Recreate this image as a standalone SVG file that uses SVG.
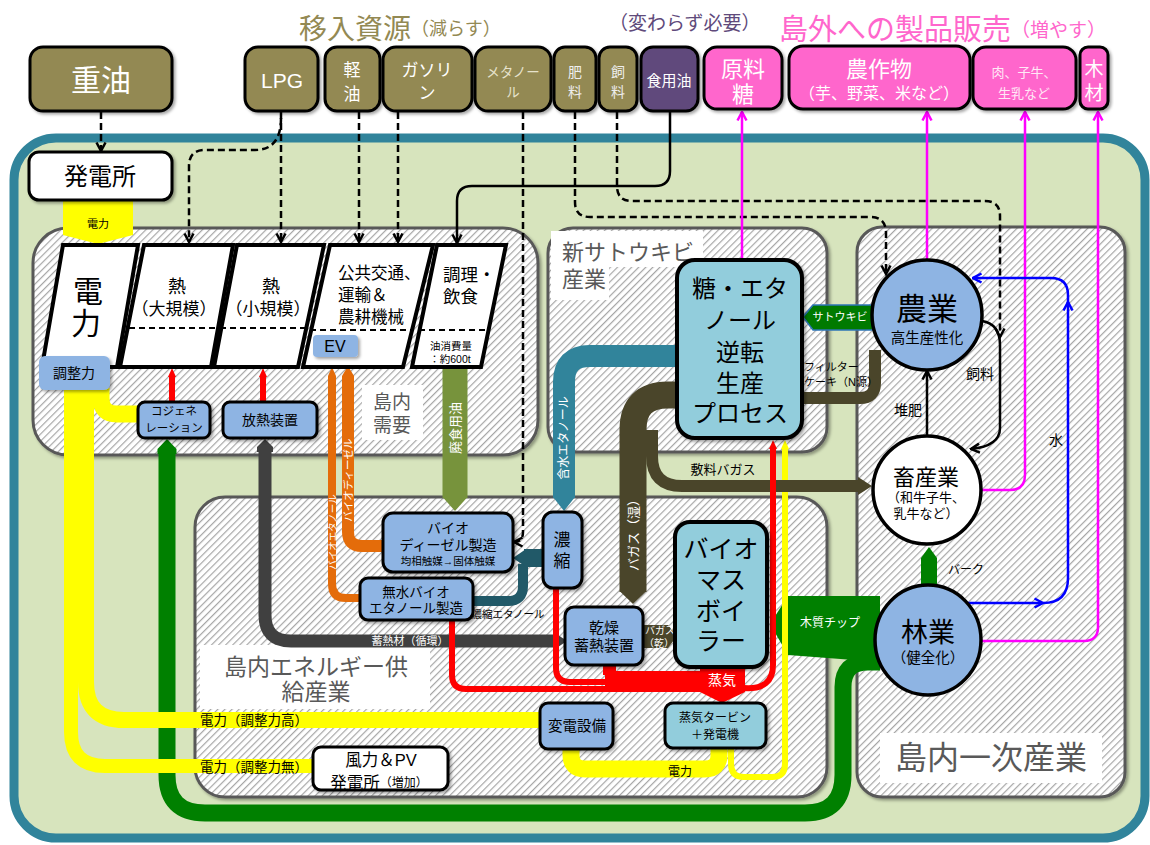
<svg xmlns="http://www.w3.org/2000/svg" width="1150" height="845" viewBox="0 0 1150 845">
<defs>
<style>
text{font-family:"Liberation Sans","Noto Sans CJK JP",sans-serif;text-anchor:middle;dominant-baseline:central;fill:#000}
.w{fill:#fff}
.g{fill:#595959}
.region{fill:url(#hatch);stroke:#595959;stroke-width:3;filter:url(#sh)}
.olive{fill:#938953;stroke:#000;stroke-width:3;filter:url(#sh)}
.pink{fill:#ff66cc;stroke:#000;stroke-width:3;filter:url(#sh)}
.box{fill:#8eb4e3;stroke:#000;stroke-width:3;filter:url(#sh)}
.box2{fill:#92cddc;stroke:#000;stroke-width:4;filter:url(#sh)}
.para{fill:#fff;stroke:#000;stroke-width:4}
.dash{fill:none;stroke:#000;stroke-width:2.5;stroke-dasharray:7 4}
.solid{fill:none;stroke:#000;stroke-width:2.5}
.pk{fill:none;stroke:#ff00ff;stroke-width:2.5}
.bl{fill:none;stroke:#0000ff;stroke-width:2.5}
.band{fill:none}
.inner{fill:none;stroke:#000;stroke-width:2;stroke-dasharray:6 4}
</style>
<pattern id="hatch" patternUnits="userSpaceOnUse" width="5" height="5" patternTransform="rotate(45)">
<rect width="5" height="5" fill="#fff"/>
<line x1="0" y1="0" x2="0" y2="5" stroke="#a6a6a6" stroke-width="2.4"/>
</pattern>
<filter id="sh" x="-10%" y="-10%" width="130%" height="130%">
<feDropShadow dx="2" dy="2" stdDeviation="1.5" flood-opacity="0.35"/>
</filter>
<marker id="ak" viewBox="0 0 12 12" refX="10.5" refY="6" markerWidth="12" markerHeight="12" markerUnits="userSpaceOnUse" orient="auto">
<path d="M2,1.5 L10.5,6 L2,10.5" fill="none" stroke="#000" stroke-width="2.5" stroke-dasharray="none"/>
</marker>
<marker id="am" viewBox="0 0 12 12" refX="10.5" refY="6" markerWidth="12" markerHeight="12" markerUnits="userSpaceOnUse" orient="auto">
<path d="M2,1.5 L10.5,6 L2,10.5" fill="none" stroke="#ff00ff" stroke-width="2.5"/>
</marker>
<marker id="ab" viewBox="0 0 12 12" refX="10.5" refY="6" markerWidth="12" markerHeight="12" markerUnits="userSpaceOnUse" orient="auto">
<path d="M2,1.5 L10.5,6 L2,10.5" fill="none" stroke="#0000ff" stroke-width="2.5"/>
</marker>
</defs>

<rect width="1150" height="845" fill="#fff"/>

<!-- titles -->
<g id="titles">
<text x="299" y="29" style="text-anchor:start;font-size:28px;fill:#938953">移入資源<tspan style="font-size:18px">（減らす）</tspan></text>
<text x="609" y="23" style="text-anchor:start;font-size:19px;fill:#604a7b">（変わらず必要）</text>
<text x="779" y="30" style="text-anchor:start;font-size:29px;fill:#ff66cc">島外への製品販売<tspan style="font-size:19px">（増やす）</tspan></text>
</g>

<!-- island background -->
<g id="island">
<rect x="14" y="138" width="1131" height="700" rx="42" fill="#d7e4bd" stroke="#31849b" stroke-width="9"/>
</g>

<!-- regions -->
<g id="region-demand">
<rect class="region" x="33" y="228" width="505" height="227" rx="35"/>
<rect x="362" y="385" width="61" height="55" fill="#fff"/>
<text class="g" x="392" y="402" style="font-size:19px">島内</text>
<text class="g" x="392" y="425" style="font-size:19px">需要</text>
</g>
<g id="region-sugar">
<rect class="region" x="548" y="228" width="279" height="224" rx="25"/>
<rect x="551" y="231" width="152" height="36" fill="#fff"/>
<rect x="551" y="262" width="58" height="38" fill="#fff"/>
<text class="g" x="562" y="252" style="text-anchor:start;font-size:22px">新サトウキビ</text>
<text class="g" x="562" y="279" style="text-anchor:start;font-size:22px">産業</text>
</g>
<g id="region-supply">
<rect class="region" x="195" y="497" width="632" height="300" rx="30"/>
<rect x="200" y="645" width="230" height="64" fill="#fff"/>
<text class="g" x="316" y="667" style="font-size:23px">島内エネルギー供</text>
<text class="g" x="316" y="692" style="font-size:23px">給産業</text>
</g>
<g id="region-primary">
<rect class="region" x="857" y="227" width="268" height="570" rx="25"/>
<rect x="880" y="733" width="222" height="50" fill="#fff"/>
<text class="g" x="991" y="758" style="font-size:32px">島内一次産業</text>
</g>

<!-- connectors -->
<g id="connectors">
<!-- green wood chip / heat loop -->
<path class="band" d="M880,662 L868,662 Q843,662 843,687 L843,775 Q843,813 805,813 L205,813 Q167,813 167,775 L167,452" stroke="#008000" stroke-width="17"/>
<polygon points="157.5,454 157.5,449 167,439 176.5,449 176.5,454" fill="#008000"/>
<polygon points="770,624 788,596 880,596 880,662 788,655" fill="#008000"/>
<text class="w" x="830" y="623" style="font-size:12px">木質チップ</text>
<polygon points="921,592 921,558 929,547 937,558 937,592" fill="#008000"/>
<text x="966" y="570" style="font-size:12px">バーク</text>

<!-- yellow power -->
<polygon points="63,200 133,200 133,235 98,244 63,235" fill="#ffff00"/>
<text x="98" y="224" style="font-size:11px">電力</text>
<path class="band" d="M86,388 L86,682 Q86,720 124,720 L542,720" stroke="#ffff00" stroke-width="16"/>
<path class="band" d="M71,388 L71,732 Q71,766 105,766 L314,766" stroke="#ffff00" stroke-width="14"/>
<path class="band" d="M101,388 L101,398 Q101,414 117,414 L140,414" stroke="#ffff00" stroke-width="17"/>
<text x="254" y="720" style="font-size:13.5px">電力（調整力高）</text>
<text x="254" y="767" style="font-size:13.5px">電力（調整力無）</text>
<path class="band" d="M719,748 L719,755 Q719,769 705,769 L585,769 Q571,769 571,755 L571,750" stroke="#ffff00" stroke-width="17"/>
<path class="band" d="M731,748 L731,764 Q731,777 744,777 L772,777 Q785,777 785,764 L785,447" stroke="#ffff00" stroke-width="6"/>
<polygon points="781,449 785,440 789,449" fill="#ffff00"/>
<text x="680" y="772" style="font-size:12px">電力</text>

<!-- dark gray heat storage -->
<path class="band" d="M265,450 L265,615 Q265,641 291,641 L558,641" stroke="#404040" stroke-width="13"/>
<polygon points="257,452 257,447 265,439 273,447 273,452" fill="#404040"/>
<polygon points="555,633 567,641 555,649" fill="#404040"/>
<text class="w" x="410" y="641" style="font-size:11px">蓄熱材（循環）</text>

<!-- orange bio fuels -->
<path class="band" d="M332,378 L332,584 Q332,598 346,598 L361,598" stroke="#e46c0a" stroke-width="8"/>
<polygon points="328,380 328,376 332,367 336,376 336,380" fill="#e46c0a"/>
<path class="band" d="M348,378 L348,532 Q348,546 362,546 L384,546" stroke="#e46c0a" stroke-width="12"/>
<polygon points="342,380 342,376 348,366 354,376 354,380" fill="#e46c0a"/>
<text class="w" x="348" y="480" transform="rotate(-90 348 480)" style="font-size:10.5px">バイオディーゼル</text>
<text class="w" x="332" y="532" transform="rotate(-90 332 532)" style="font-size:9.5px">バイオエタノール</text>

<!-- waste cooking oil -->
<path class="band" d="M455,368 L455,498" stroke="#77933c" stroke-width="25"/>
<polygon points="442.5,497 467.5,497 455,511" fill="#77933c"/>
<text class="w" x="455" y="428" transform="rotate(-90 455 428)" style="font-size:13px">廃食用油</text>

<!-- hydrous ethanol -->
<path class="band" d="M678,356 L590,356 Q564,356 564,382 L564,498" stroke="#31849b" stroke-width="22"/>
<polygon points="553,497 575,497 564,511" fill="#31849b"/>
<text class="w" x="564" y="438" transform="rotate(-90 564 438)" style="font-size:12px">含水エタノール</text>

<!-- bagasse -->
<path class="band" d="M678,395 L668,395 Q633,395 633,430 L633,592" stroke="#4a452a" stroke-width="27"/>
<polygon points="619.5,591 646.5,591 633,604" fill="#4a452a"/>
<text class="w" x="633" y="532" transform="rotate(-90 633 532)" style="font-size:13px">バガス（湿）</text>
<path class="band" d="M652,430 L652,456 Q652,486 682,486 L862,486" stroke="#4a452a" stroke-width="12"/>
<polygon points="858,477 872,486 858,495" fill="#4a452a"/>
<text x="723" y="469" style="font-size:13px">敷料バガス</text>
<path class="band" d="M801,398 L860,398 Q875,398 875,383 L875,350" stroke="#4a452a" stroke-width="12"/>
<text x="804" y="367" style="text-anchor:start;font-size:11px">フィルター</text>
<text x="804" y="382" style="text-anchor:start;font-size:11px">ケーキ（N源）</text>
<polygon points="643,625 668,625 677,636 668,648 643,648" fill="#4a452a"/>
<text class="w" x="660" y="630" style="font-size:10px">バガス</text>
<text class="w" x="659" y="643" style="font-size:10px">（乾）</text>

<!-- concentrated ethanol -->
<path class="band" d="M473,601 L508,601 Q523,601 523,586 L523,564" stroke="#215968" stroke-width="10"/>
<rect x="524" y="549" width="21" height="18" fill="#215968"/>
<polygon points="526,549 513,558 526,567" fill="#215968"/>
<text x="508" y="614" style="font-size:10.5px">濃縮エタノール</text>

<!-- red heat / steam -->
<path class="band" d="M172,402 L172,375" stroke="#ff0000" stroke-width="6"/>
<polygon points="168,377 172,368 176,377" fill="#ff0000"/>
<path class="band" d="M263,402 L263,375" stroke="#ff0000" stroke-width="6"/>
<polygon points="259,377 263,368 267,377" fill="#ff0000"/>
<path class="band" d="M452,621 L452,675 Q452,689 466,689 L610,689" stroke="#ff0000" stroke-width="6"/>
<path class="band" d="M556,589 L556,668 Q556,682 570,682 L610,682" stroke="#ff0000" stroke-width="6"/>
<rect x="605" y="671" width="100" height="21" fill="#ff0000"/>
<rect x="603" y="663" width="13" height="12" fill="#ff0000"/>
<polygon points="700,666 745,666 745,692 722,703 700,692" fill="#ff0000"/>
<text class="w" x="722" y="680" style="font-size:14px">蒸気</text>
<path class="band" d="M744,688 Q773,690 773,665 L773,447" stroke="#ff0000" stroke-width="6"/>
<polygon points="769,449 773,440 777,449" fill="#ff0000"/>

<!-- imported resources (dashed) -->
<path class="dash" d="M101,112 L101,151" marker-end="url(#ak)"/>
<path class="dash" d="M281,112 L281,242" marker-end="url(#ak)"/>
<path class="dash" d="M281,118 Q281,150 255,150 L205,150 Q189,150 189,166 L189,242" marker-end="url(#ak)"/>
<path class="dash" d="M359,112 L359,242" marker-end="url(#ak)"/>
<path class="dash" d="M398,112 L398,242" marker-end="url(#ak)"/>
<path class="dash" d="M523,112 L523,532 Q523,542 514,542" marker-end="url(#ak)"/>
<path class="dash" d="M575,112 L575,202 Q575,217 590,217 L870,217 Q886,217 886,233 L886,274" marker-end="url(#ak)"/>
<path class="dash" d="M617,112 L617,186 Q617,201 632,201 L985,201 Q1000,201 1000,216 L1000,337" marker-end="url(#ak)"/>
<path class="solid" d="M670,110 L670,171 Q670,186 655,186 L472,186 Q457,186 457,201 L457,243" marker-end="url(#ak)"/>

<!-- farm internal -->
<path class="solid" d="M927,437 L927,371" marker-end="url(#ak)"/>
<path class="solid" d="M982,321 Q1000,324 1000,345 L1000,428 Q1000,446 971,449" marker-end="url(#ak)"/>
<text x="908" y="410" style="font-size:14px">堆肥</text>
<text x="980" y="374" style="font-size:14px">飼料</text>

<!-- exports (pink) -->
<path class="pk" d="M742,261 L742,112" marker-end="url(#am)"/>
<path class="pk" d="M927,260 L927,112" marker-end="url(#am)"/>
<path class="pk" d="M980,490 L1010,490 Q1025,490 1025,475 L1025,112" marker-end="url(#am)"/>
<path class="pk" d="M980,641 L1084,641 Q1098,641 1098,627 L1098,112" marker-end="url(#am)"/>

<!-- water (blue) -->
<path class="bl" d="M968,603 L1043,603" marker-end="url(#ab)"/>
<path class="bl" d="M1043,603 Q1068,603 1068,578 L1068,302" marker-end="url(#ab)"/>
<path class="bl" d="M1068,304 L1068,295 Q1068,278 1051,278 L973,278" marker-end="url(#ab)"/>
<text x="1056" y="440" style="font-size:14px">水</text>

<!-- sugarcane -->
<polygon points="803,317 813,305 878,305 878,330 813,330" fill="#007a00" stroke="#2e75b6" stroke-width="1.5"/>
<text class="w" x="840" y="317" style="font-size:11px">サトウキビ</text>
</g>

<!-- top row nodes -->
<g id="n-heavyoil"><rect class="olive" x="30" y="47" width="142" height="64" rx="13"/><text class="w" x="101" y="80" style="font-size:30px">重油</text></g>
<g id="n-lpg"><rect class="olive" x="245" y="47" width="73" height="64" rx="13"/><text class="w" x="282" y="80" style="font-size:21px">LPG</text></g>
<g id="n-diesel"><rect class="olive" x="325" y="47" width="55" height="64" rx="12"/><text class="w" x="352" y="70" style="font-size:17px">軽</text><text class="w" x="352" y="94" style="font-size:17px">油</text></g>
<g id="n-gasoline"><rect class="olive" x="383" y="47" width="89" height="64" rx="13"/><text class="w" x="427" y="70" style="font-size:17px">ガソリ</text><text class="w" x="427" y="93" style="font-size:17px">ン</text></g>
<g id="n-methanol"><rect class="olive" x="475" y="47" width="76" height="64" rx="13"/><text x="513" y="72" style="font-size:13.5px;fill:#e6e2cc">メタノー</text><text x="513" y="92" style="font-size:13.5px;fill:#e6e2cc">ル</text></g>
<g id="n-fertilizer"><rect class="olive" x="554" y="47" width="42" height="64" rx="11"/><text x="575" y="72" style="font-size:14px;fill:#eee">肥</text><text x="575" y="92" style="font-size:14px;fill:#eee">料</text></g>
<g id="n-feed"><rect class="olive" x="599" y="47" width="38" height="64" rx="11"/><text x="618" y="72" style="font-size:14px;fill:#eee">飼</text><text x="618" y="92" style="font-size:14px;fill:#eee">料</text></g>
<g id="n-edibleoil"><rect x="641" y="47" width="57" height="64" rx="12" fill="#604a7b" stroke="#000" stroke-width="3" filter="url(#sh)"/><text class="w" x="669" y="80" style="font-size:15px">食用油</text></g>
<g id="n-rawsugar"><rect class="pink" x="704" y="47" width="78" height="62" rx="13"/><text class="w" x="743" y="69" style="font-size:22px">原料</text><text class="w" x="743" y="94" style="font-size:22px">糖</text></g>
<g id="n-crops"><rect class="pink" x="789" y="46" width="181" height="63" rx="14"/><text class="w" x="879" y="69" style="font-size:22px">農作物</text><text class="w" x="879" y="93" style="font-size:16px">（芋、野菜、米など）</text></g>
<g id="n-meat"><rect class="pink" x="973" y="47" width="103" height="62" rx="13"/><text x="1024" y="72" style="font-size:13px;fill:#ffe8f6">肉、子牛、</text><text x="1024" y="93" style="font-size:13px;fill:#ffe8f6">生乳など</text></g>
<g id="n-timber"><rect class="pink" x="1080" y="47" width="28" height="62" rx="8"/><text class="w" x="1094" y="69" style="font-size:19px">木</text><text class="w" x="1094" y="93" style="font-size:19px">材</text></g>

<!-- power station -->
<g id="n-powerplant"><rect x="29" y="152" width="143" height="48" rx="10" fill="#fff" stroke="#000" stroke-width="3" filter="url(#sh)"/><text x="100" y="176" style="font-size:24px">発電所</text></g>

<!-- demand parallelograms -->
<g id="n-power"><polygon class="para" points="63,245 138,245 117,367 42,367"/><text x="88" y="291" style="font-size:30px">電</text><text x="86" y="323" style="font-size:30px">力</text></g>
<g id="n-heat-large"><polygon class="para" points="144,245 233,245 211,367 120,367"/><line class="inner" x1="129" y1="328" x2="218" y2="328"/><text x="177" y="287" style="font-size:18px">熱</text><text x="174" y="309" style="font-size:17px">（大規模）</text></g>
<g id="n-heat-small"><polygon class="para" points="237,245 324,245 298,367 214,367"/><line class="inner" x1="220" y1="328" x2="306" y2="328"/><text x="271" y="287" style="font-size:18px">熱</text><text x="268" y="309" style="font-size:17px">（小規模）</text></g>
<g id="n-transport"><polygon class="para" points="330,245 433,245 403,367 303,367"/><line class="inner" x1="310" y1="330" x2="411" y2="330"/><text x="338" y="273" style="text-anchor:start;font-size:16.5px">公共交通、</text><text x="338" y="295" style="text-anchor:start;font-size:16.5px">運輸＆</text><text x="338" y="317" style="text-anchor:start;font-size:16.5px">農耕機械</text><rect x="313" y="335" width="45" height="22" rx="4" fill="#8eb4e3" filter="url(#sh)"/><text x="335" y="346" style="font-size:16px">EV</text></g>
<g id="n-cooking"><polygon class="para" points="437,245 506,245 481,367 412,367"/><line class="inner" x1="419" y1="330" x2="489" y2="330"/><text x="443" y="275" style="text-anchor:start;font-size:17.5px">調理・</text><text x="443" y="297" style="text-anchor:start;font-size:17.5px">飲食</text><text x="451" y="346" style="font-size:10.5px">油消費量</text><text x="450" y="359" style="font-size:10.5px">：約600t</text></g>

<g id="n-adjust"><rect x="39" y="356" width="71" height="34" rx="6" fill="#8eb4e3" filter="url(#sh)"/><text x="74" y="373" style="font-size:14px">調整力</text></g>
<g id="n-cogen"><rect class="box" x="138" y="402" width="72" height="36" rx="7"/><text x="174" y="411" style="font-size:11.5px">コジェネ</text><text x="174" y="428" style="font-size:11.5px">レーション</text></g>
<g id="n-radiator"><rect class="box" x="223" y="402" width="94" height="36" rx="7"/><text x="270" y="420" style="font-size:14px">放熱装置</text></g>

<!-- sugar process -->
<g id="n-sugar"><rect class="box2" x="677" y="260" width="125" height="178" rx="18"/>
<text x="740" y="288" style="font-size:24px">糖・エタ</text><text x="740" y="320" style="font-size:24px">ノール</text><text x="740" y="352" style="font-size:24px">逆転</text><text x="740" y="383" style="font-size:24px">生産</text><text x="740" y="413" style="font-size:24px">プロセス</text></g>

<!-- supply nodes -->
<g id="n-biodiesel"><rect class="box" x="383" y="513" width="130" height="59" rx="10"/><text x="448" y="528" style="font-size:14px">バイオ</text><text x="448" y="545" style="font-size:14px">ディーゼル製造</text><text x="448" y="561" style="font-size:10.5px">均相触媒→固体触媒</text></g>
<g id="n-ethanol"><rect class="box" x="360" y="578" width="113" height="42" rx="8"/><text x="416" y="592" style="font-size:13.5px">無水バイオ</text><text x="416" y="608" style="font-size:13.5px">エタノール製造</text></g>
<g id="n-concentrate"><rect class="box" x="543" y="512" width="39" height="76" rx="10"/><text x="562" y="540" style="font-size:17px">濃</text><text x="562" y="561" style="font-size:17px">縮</text></g>
<g id="n-dryer"><rect class="box" x="565" y="607" width="78" height="58" rx="9"/><text x="604" y="627" style="font-size:15px">乾燥</text><text x="604" y="645" style="font-size:15px">蓄熱装置</text></g>
<g id="n-boiler"><rect class="box2" x="675" y="522" width="92" height="145" rx="15"/><text x="721" y="549" style="font-size:25px">バイオ</text><text x="721" y="580" style="font-size:25px">マス</text><text x="721" y="611" style="font-size:25px">ボイ</text><text x="721" y="641" style="font-size:25px">ラー</text></g>
<g id="n-substation"><rect class="box" x="540" y="703" width="73" height="46" rx="8"/><text x="577" y="726" style="font-size:14.5px">変電設備</text></g>
<g id="n-turbine"><rect class="box2" x="665" y="703" width="101" height="45" rx="8" style="stroke-width:3"/><text x="715" y="718" style="font-size:12px">蒸気タービン</text><text x="715" y="735" style="font-size:12px">＋発電機</text></g>
<g id="n-renewable"><rect x="313" y="747" width="135" height="43" rx="8" fill="#fff" stroke="#000" stroke-width="3" filter="url(#sh)"/><text x="381" y="760" style="font-size:16.5px">風力＆PV</text><text x="379" y="783" style="font-size:16.5px">発電所<tspan style="font-size:12px">（増加）</tspan></text></g>

<!-- primary industry -->
<g id="n-agri"><circle cx="927" cy="315" r="55" fill="#8eb4e3" stroke="#000" stroke-width="3.5"/><text x="927" y="309" style="font-size:31px">農業</text><text x="927" y="338" style="font-size:14.5px">高生産性化</text></g>
<g id="n-livestock"><circle cx="927" cy="490" r="54" fill="#fff" stroke="#000" stroke-width="3.5"/><text x="926" y="477" style="font-size:22px">畜産業</text><text x="926" y="497" style="font-size:13px">（和牛子牛、</text><text x="926" y="513" style="font-size:13px">乳牛など）</text></g>
<g id="n-forest"><ellipse cx="928" cy="640" rx="53" ry="55" fill="#8eb4e3" stroke="#000" stroke-width="3.5"/><text x="928" y="633" style="font-size:27px">林業</text><text x="928" y="658" style="font-size:14.5px">（健全化）</text></g>
</svg>
